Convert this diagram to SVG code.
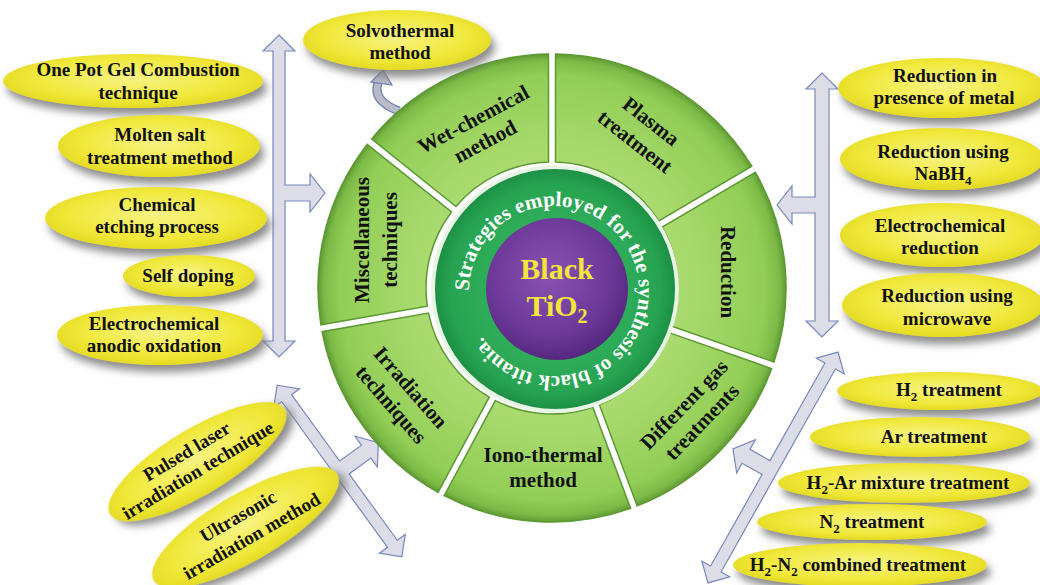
<svg xmlns="http://www.w3.org/2000/svg" width="1040" height="585" viewBox="0 0 1040 585">
<defs>
<style>
.t{font-family:"Liberation Serif","Times New Roman",serif;font-weight:bold;font-size:19px;fill:#111;text-anchor:middle}
.s{font-family:"Liberation Serif","Times New Roman",serif;font-weight:bold;font-size:21px;fill:#111;text-anchor:middle}
.el{fill:url(#yel);filter:url(#sh)}
.seg{fill:url(#grn);stroke:#5c9a34;stroke-width:1.5}
.arr{fill:#dcdde7;stroke:#7688bd;stroke-width:1.2;stroke-linejoin:miter}
</style>
<radialGradient id="yel" cx="0.5" cy="0.45" r="0.55">
<stop offset="0" stop-color="#f7f384"/>
<stop offset="0.7" stop-color="#f0e83a"/>
<stop offset="1" stop-color="#e4da22"/>
</radialGradient>
<radialGradient id="grn" gradientUnits="userSpaceOnUse" cx="552" cy="288" r="236">
<stop offset="0" stop-color="#c4e88e"/>
<stop offset="0.6" stop-color="#a8d96c"/>
<stop offset="0.9" stop-color="#92ce56"/>
<stop offset="0.965" stop-color="#7cba46"/>
<stop offset="1" stop-color="#578f2e"/>
</radialGradient>
<radialGradient id="ring" cx="0.5" cy="0.5" r="0.5">
<stop offset="0.55" stop-color="#2fae5a"/>
<stop offset="0.85" stop-color="#27a452"/>
<stop offset="1" stop-color="#1b8e44"/>
</radialGradient>
<radialGradient id="pur" cx="0.45" cy="0.4" r="0.6">
<stop offset="0" stop-color="#8a52b2"/>
<stop offset="0.7" stop-color="#6c3999"/>
<stop offset="1" stop-color="#55287f"/>
</radialGradient>
<filter id="sh" x="-20%" y="-40%" width="150%" height="200%">
<feGaussianBlur in="SourceAlpha" stdDeviation="4"/>
<feOffset dx="4" dy="7" result="o"/>
<feFlood flood-color="#777" flood-opacity="0.85"/>
<feComposite in2="o" operator="in"/>
<feMerge><feMergeNode/><feMergeNode in="SourceGraphic"/></feMerge>
</filter>
<path id="ringpath" d="M469,291 A85,85 0 1 1 639,291 A85,85 0 1 1 469,291"/>
</defs>
<rect width="1040" height="585" fill="#fff"/>

<g id="connectors">
<path class="arr" transform="translate(279,196)" d="M0,-161 L16,-145 L6,-145 L6,-11 L31,-11 L31,-22 L46,-3 L31,16 L31,5 L6,5 L6,145 L16,145 L0,161 L-16,145 L-6,145 L-6,-145 L-16,-145 Z"/>
<path class="arr" transform="translate(822,205) rotate(180)" d="M0,-132 L16,-116 L7,-116 L7,-8 L30,-8 L30,-19 L45,0 L30,19 L30,8 L7,8 L7,116 L16,116 L0,132 L-16,116 L-7,116 L-7,-116 L-16,-116 Z"/>
<path class="arr" transform="translate(773,467.5) rotate(209.4)" d="M0,-132.5 L16,-116.5 L6,-116.5 L6,-11.5 L29,-11.5 L29,-22.5 L44,-3.5 L29,15.5 L29,4.5 L6,4.5 L6,116.5 L16,116.5 L0,132.5 L-16,116.5 L-6,116.5 L-6,-116.5 L-16,-116.5 Z"/>
<path class="arr" transform="translate(339.5,471) rotate(-36)" d="M0,-106 L16,-90 L6,-90 L6,-8 L33,-8 L33,-19 L48,0 L33,19 L33,8 L6,8 L6,90 L16,90 L0,106 L-16,90 L-6,90 L-6,-90 L-16,-90 Z"/>
<path d="M399,111 Q372,101 378,83" fill="none" stroke="#6a7db5" stroke-width="9"/>
<path d="M399,111 Q372,101 378,83" fill="none" stroke="#b9bcc8" stroke-width="6.5"/>
<polygon points="383,70 392,85 371,82" fill="#b9bcc8" stroke="#6a7db5" stroke-width="1.2"/>
</g>

<g id="wheel">
<g id="seg-plasma"><path class="seg" d="M555.5,54 A234,234 0 0 1 751.8,166.2 L658.7,221 A126,126 0 0 0 555.5,162 Z"/>
<g transform="translate(643,131.5) rotate(38)"><text class="s" y="-6">Plasma</text><text class="s" y="20">treatment</text></g></g>
<g id="seg-reduction"><path class="seg" d="M755.4,172.3 A234,234 0 0 1 774,362 L672,326.3 A126,126 0 0 0 662.3,227.1 Z"/>
<g transform="translate(728,272) rotate(90)"><text class="s" y="7">Reduction</text></g></g>
<g id="seg-gas"><path class="seg" d="M771.7,368.6 A234,234 0 0 1 637.2,505.9 L599.4,404.7 A126,126 0 0 0 669.7,332.9 Z"/>
<g transform="translate(692.5,413) rotate(-46)"><text class="s" y="-5">Different gas</text><text class="s" y="20">treatments</text></g></g>
<g id="seg-iono"><path class="seg" d="M630.6,508.4 A234,234 0 0 1 444.2,495.7 L495.4,400.6 A126,126 0 0 0 592.8,407.2 Z"/>
<text class="s" x="543" y="462">Iono-thermal</text><text class="s" x="543" y="487">method</text></g>
<g id="seg-irr"><path class="seg" d="M438,492.4 A234,234 0 0 1 322.1,331.7 L428.5,313.1 A126,126 0 0 0 489.2,397.2 Z"/>
<g transform="translate(401,396) rotate(49)"><text class="s" y="-6">Irradiation</text><text class="s" y="20">techniques</text></g></g>
<g id="seg-misc"><path class="seg" d="M320.9,324.8 A234,234 0 0 1 367.2,144.4 L451.5,212 A126,126 0 0 0 427.3,306.2 Z"/>
<g transform="translate(377,240) rotate(-90)"><text class="s" y="-8">Miscellaneous</text><text class="s" y="20">techniques</text></g></g>
<g id="seg-wet"><path class="seg" d="M371.6,138.9 A234,234 0 0 1 548.5,54 L548.5,162 A126,126 0 0 0 455.9,206.5 Z"/>
<g transform="translate(479,130) rotate(-28)"><text class="s" y="-5">Wet-chemical</text><text class="s" y="20">method</text></g></g>
</g>

<g id="center">
<circle cx="555" cy="289" r="122" fill="url(#ring)" stroke="#e9f5e4" stroke-width="4"/>
<text font-family="'Liberation Serif','Times New Roman',serif" font-weight="bold" font-size="21" fill="#fff" letter-spacing="0.15"><textPath href="#ringpath">Strategies employed for the synthesis of black titania.</textPath></text>
<circle cx="557" cy="289" r="71" fill="url(#pur)"/>
<text x="557" y="279" font-family="'Liberation Serif','Times New Roman',serif" font-weight="bold" font-size="30" fill="#f2e63a" text-anchor="middle">Black</text>
<text x="557" y="316" font-family="'Liberation Serif','Times New Roman',serif" font-weight="bold" font-size="30" fill="#f2e63a" text-anchor="middle">TiO<tspan font-size="20" dy="7">2</tspan></text>
</g>

<g id="n-solvo"><ellipse class="el" cx="397" cy="40" rx="94" ry="30"/><text class="t" x="400" y="37">Solvothermal</text><text class="t" x="400" y="59">method</text></g>

<g id="n-onepot"><ellipse class="el" cx="133" cy="81" rx="130" ry="27"/><text class="t" x="138" y="76">One Pot Gel Combustion</text><text class="t" x="138" y="99">technique</text></g>
<g id="n-molten"><ellipse class="el" cx="159" cy="146" rx="101" ry="31"/><text class="t" x="160" y="141">Molten salt</text><text class="t" x="160" y="164">treatment method</text></g>
<g id="n-etch"><ellipse class="el" cx="156" cy="218" rx="111" ry="31"/><text class="t" x="157" y="211">Chemical</text><text class="t" x="157" y="233">etching process</text></g>
<g id="n-self"><ellipse class="el" cx="189" cy="276" rx="66" ry="21"/><text class="t" x="188" y="282">Self doping</text></g>
<g id="n-anodic"><ellipse class="el" cx="160" cy="335" rx="103" ry="30"/><text class="t" x="154" y="330">Electrochemical</text><text class="t" x="154" y="352">anodic oxidation</text></g>

<g id="n-metal"><ellipse class="el" cx="942" cy="88" rx="104" ry="30"/><text class="t" x="945" y="82">Reduction in</text><text class="t" x="944" y="104">presence of metal</text></g>
<g id="n-nabh4"><ellipse class="el" cx="942" cy="159" rx="102" ry="31"/><text class="t" x="943" y="158">Reduction using</text><text class="t" x="943" y="180">NaBH<tspan font-size="13" dy="5">4</tspan></text></g>
<g id="n-echem"><ellipse class="el" cx="942" cy="235" rx="102" ry="32"/><text class="t" x="940" y="232">Electrochemical</text><text class="t" x="940" y="254">reduction</text></g>
<g id="n-micro"><ellipse class="el" cx="943" cy="305" rx="101" ry="32"/><text class="t" x="947" y="302">Reduction using</text><text class="t" x="947" y="325">microwave</text></g>

<g id="n-h2"><ellipse class="el" cx="940" cy="391" rx="103" ry="19"/><text class="t" x="949" y="396">H<tspan font-size="13" dy="5">2</tspan><tspan dy="-5"> treatment</tspan></text></g>
<g id="n-ar"><ellipse class="el" cx="920" cy="437" rx="110" ry="20"/><text class="t" x="934" y="443">Ar treatment</text></g>
<g id="n-h2ar"><ellipse class="el" cx="904" cy="483" rx="126" ry="20"/><text class="t" x="908" y="489">H<tspan font-size="13" dy="5">2</tspan><tspan dy="-5">-Ar mixture treatment</tspan></text></g>
<g id="n-n2"><ellipse class="el" cx="872" cy="522" rx="115" ry="18"/><text class="t" x="872" y="528">N<tspan font-size="13" dy="5">2</tspan><tspan dy="-5"> treatment</tspan></text></g>
<g id="n-h2n2"><ellipse class="el" cx="860" cy="565" rx="127" ry="22"/><text class="t" x="858" y="571">H<tspan font-size="13" dy="5">2</tspan><tspan dy="-5">-N</tspan><tspan font-size="13" dy="5">2</tspan><tspan dy="-5"> combined treatment</tspan></text></g>

<g id="n-pulsed" transform="translate(200,466) rotate(-31)"><ellipse class="el" cx="0" cy="-5" rx="102" ry="33"/><text class="t" x="-4" y="-13">Pulsed laser</text><text class="t" x="-4" y="9">irradiation technique</text></g>
<g id="n-ultra" transform="translate(247,530) rotate(-30)"><ellipse class="el" cx="0" cy="-3" rx="106" ry="34"/><text class="t" x="-1" y="-10">Ultrasonic</text><text class="t" x="1" y="14">irradiation method</text></g>
</svg>
